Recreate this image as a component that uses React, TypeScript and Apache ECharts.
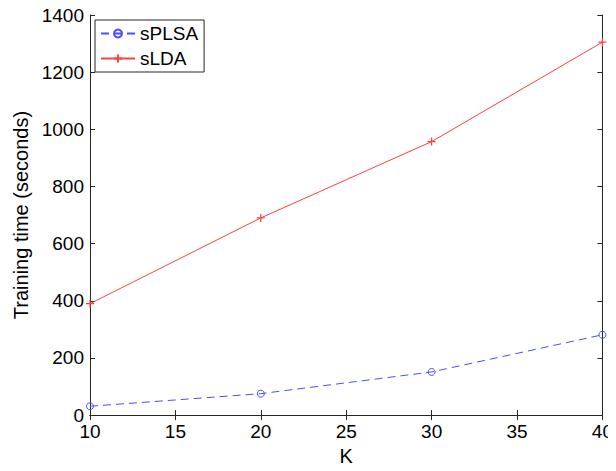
import React, { useEffect, useRef } from "react";
import * as echarts from "echarts";

const kValues = [10, 20, 30, 40];
const splsaTimes = [31, 75, 151, 281];
const sldaTimes = [390, 690, 957, 1305];
const xTicks = [10, 15, 20, 25, 30, 35, 40];
const yTicks = [0, 200, 400, 600, 800, 1000, 1200, 1400];

const FONT = "Liberation Sans, Arial, Helvetica, sans-serif";
const AXIS_COLOR = "#262626";
const BLUE = "#4d4dff";
const RED = "#ff4040";

export default function App() {
  const ref = useRef<HTMLDivElement>(null);
  useEffect(() => {
    if (!ref.current) return;
    const chart = echarts.init(ref.current, undefined, { renderer: "svg" });
    const baseAxis = {
      axisLine: { show: true, lineStyle: { color: AXIS_COLOR, width: 1 } },
      axisTick: { show: true, inside: true, length: 5, lineStyle: { color: AXIS_COLOR } },
      splitLine: { show: false },
    };
    chart.setOption({
      animation: false,
      backgroundColor: "#ffffff",
      textStyle: { fontFamily: FONT },
      grid: { left: 90, right: 9, top: 15, bottom: 48, containLabel: false },
      legend: {
        left: 95,
        top: 20,
        orient: "vertical",
        itemWidth: 34,
        itemHeight: 10,
        itemGap: 6,
        padding: [4, 6, 4, 5],
        borderColor: AXIS_COLOR,
        borderWidth: 1,
        backgroundColor: "#ffffff",
        textStyle: { fontFamily: FONT, fontSize: 19, color: "#000" },
        data: ["sPLSA", "sLDA"],
      },
      xAxis: [
        {
          ...baseAxis,
          type: "value",
          min: 10,
          max: 40,
          interval: 5,
          name: "K",
          nameLocation: "middle",
          nameGap: 28,
          nameTextStyle: { fontFamily: FONT, fontSize: 20, color: "#000" },
          axisLabel: {
            fontFamily: FONT,
            fontSize: 19,
            color: "#000",
            margin: 7,
            formatter: (v: number) => (xTicks.includes(v) ? String(v) : ""),
          },
        },
        {
          ...baseAxis,
          type: "value",
          position: "top",
          min: 10,
          max: 40,
          interval: 5,
          axisLabel: { show: false },
        },
      ],
      yAxis: [
        {
          ...baseAxis,
          type: "value",
          min: 0,
          max: 1400,
          interval: 200,
          name: "Training time (seconds)",
          nameLocation: "middle",
          nameGap: 56,
          nameTextStyle: { fontFamily: FONT, fontSize: 20, color: "#000" },
          axisLabel: {
            fontFamily: FONT,
            fontSize: 19,
            color: "#000",
            margin: 6,
            formatter: (v: number) => (yTicks.includes(v) ? String(v) : ""),
          },
        },
        {
          ...baseAxis,
          type: "value",
          position: "right",
          min: 0,
          max: 1400,
          interval: 200,
          axisLabel: { show: false },
        },
      ],
      series: [
        {
          name: "sPLSA",
          type: "line",
          data: kValues.map((k, i) => [k, splsaTimes[i]]),
          symbol: "circle",
          symbolSize: 7,
          showAllSymbol: true,
          lineStyle: { color: BLUE, width: 1, type: [8, 5] },
          itemStyle: { color: "rgba(255,255,255,0)", borderColor: BLUE, borderWidth: 1 },
        },
        {
          name: "sLDA",
          type: "line",
          data: kValues.map((k, i) => [k, sldaTimes[i]]),
          symbol: "path://M0,5 L10,5 M5,0 L5,10",
          symbolSize: 8,
          lineStyle: { color: RED, width: 1 },
          itemStyle: { color: "none", borderColor: RED, borderWidth: 1.2 },
        },
      ],
    });
    return () => chart.dispose();
  }, []);
  return <div ref={ref} style={{ width: 616, height: 471, margin: -8 }} />;
}
